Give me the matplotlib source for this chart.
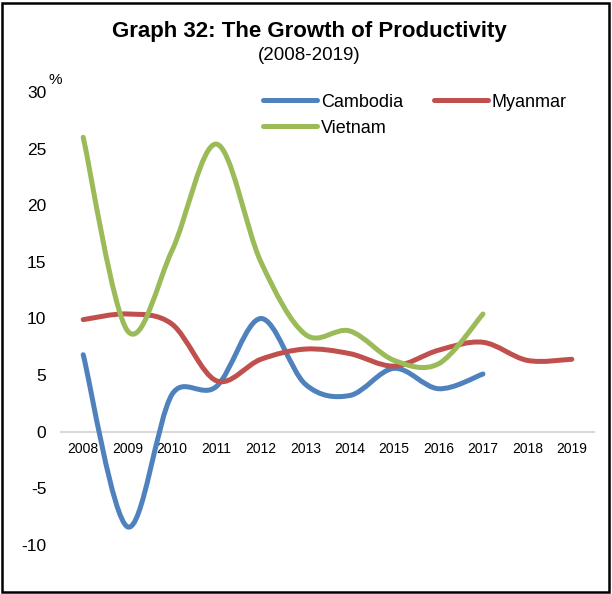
import numpy as np
import matplotlib
matplotlib.use("Agg")
import matplotlib.pyplot as plt
from matplotlib.path import Path
from matplotlib.patches import PathPatch, Rectangle
from matplotlib.lines import Line2D

plt.rcParams["font.family"] = ["Liberation Sans", "DejaVu Sans"]
plt.rcParams["axes.unicode_minus"] = False

years = ["2008", "2009", "2010", "2011", "2012", "2013",
         "2014", "2015", "2016", "2017", "2018", "2019"]
cambodia = [6.8, -8.4, 3.3, 4.0, 10.0, 4.2, 3.2, 5.6, 3.8, 5.1]
myanmar = [9.9, 10.4, 9.5, 4.5, 6.4, 7.3, 6.9, 5.8, 7.2, 7.9, 6.3, 6.4]
vietnam = [26.0, 8.9, 16.0, 25.4, 15.0, 8.6, 8.9, 6.3, 6.0, 10.4]

series = [
    ("Cambodia", cambodia, "#4F81BD"),
    ("Myanmar", myanmar, "#C0504D"),
    ("Vietnam", vietnam, "#9BBB59"),
]

W, H = 612, 594
AX_L, AX_R, AX_T, AX_B = 61, 594, 92, 545


def smooth_path(xs, ys, sx, sy):
    # Excel-like smoothed line: arms = (next - prev)/6, capped at half the segment
    pts = np.column_stack([xs, ys]).astype(float)
    scale = np.array([sx, sy])
    n = len(pts)

    def length(v):
        return np.hypot(*(v * scale))

    verts = [pts[0]]
    codes = [Path.MOVETO]
    for i in range(n - 1):
        p1, p2 = pts[i], pts[i + 1]
        p0 = pts[i - 1] if i > 0 else p1
        p3 = pts[i + 2] if i + 2 < n else p2
        d12 = length(p2 - p1)
        a1 = (p2 - p0) / 6
        a2 = (p3 - p1) / 6
        if length(a1) > d12 / 2:
            a1 = a1 * (d12 / 2) / length(a1)
        if length(a2) > d12 / 2:
            a2 = a2 * (d12 / 2) / length(a2)
        verts += [p1 + a1, p2 - a2, p2]
        codes += [Path.CURVE4] * 3
    return Path(verts, codes)


fig = plt.figure(figsize=(6.12, 5.94), dpi=100)
ax = fig.add_axes([AX_L / W, 1 - AX_B / H, (AX_R - AX_L) / W, (AX_B - AX_T) / H])

ax.set_xlim(-0.5, len(years) - 0.5)
ax.set_ylim(-10, 30)
px_x = (AX_R - AX_L) / len(years)
px_y = (AX_B - AX_T) / 40

for name, vals, color in series:
    x = np.arange(len(vals))
    patch = PathPatch(smooth_path(x, vals, px_x, px_y), facecolor="none", edgecolor=color,
                      linewidth=3.6, capstyle="round", joinstyle="round",
                      clip_on=False, zorder=3)
    ax.add_patch(patch)

ax.set_xticks(range(len(years)))
ax.set_xticklabels(years, fontsize=11.5)
ax.set_yticks(range(-10, 31, 5))
ax.tick_params(axis="both", length=0)
ax.tick_params(axis="y", labelsize=12.5, pad=10.5)
ax.tick_params(axis="x", pad=7.5)

for s in ["top", "right", "left"]:
    ax.spines[s].set_visible(False)
ax.spines["bottom"].set_position(("data", 0))
ax.spines["bottom"].set_color("#D9D9D9")
ax.spines["bottom"].set_linewidth(1.5)
ax.patch.set_visible(False)

ax.text(-0.64, 31.05, "%", fontsize=11, ha="center", va="center")

handles = [Line2D([0], [0], color=c, lw=3.6, solid_capstyle="round") for _, _, c in series]
labels = [n for n, _, _ in series]
order = [0, 2, 1]
ax.legend([handles[i] for i in order], [labels[i] for i in order],
          ncol=2, loc="upper left", bbox_to_anchor=(0.366, 1.012),
          frameon=False, fontsize=13, handlelength=3.0, handletextpad=0.2,
          columnspacing=1.7, labelspacing=0.5, borderaxespad=0)

fig.text(309 / W, 1 - 32 / H, "Graph 32: The Growth of Productivity",
         fontsize=16, fontweight="bold", ha="center", va="center")
fig.text(309 / W, 1 - 56 / H, "(2008-2019)", fontsize=13.5, ha="center", va="center")

fig.add_artist(Rectangle((2 / W, 2 / H), 1 - 5 / W, 1 - 5 / H, transform=fig.transFigure,
                         fill=False, edgecolor="black", linewidth=1.8))

fig.savefig("out.png", dpi=100)
